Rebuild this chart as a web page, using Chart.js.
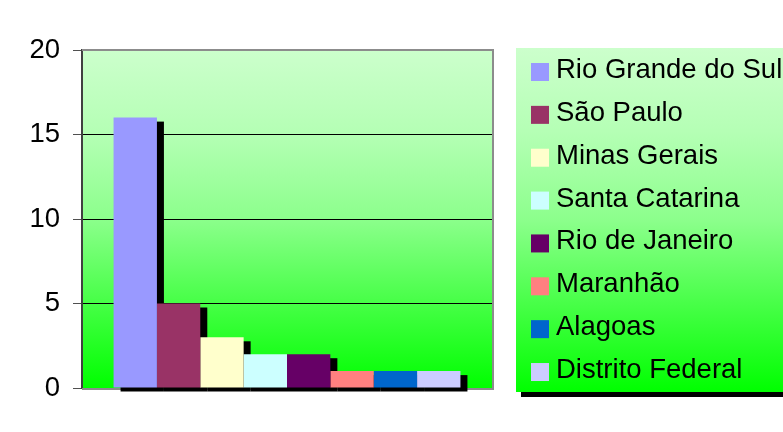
<!DOCTYPE html>
<html>
<head>
<meta charset="utf-8">
<script src="https://cdn.jsdelivr.net/npm/chart.js@4/dist/chart.umd.min.js"></script>
<style>
  html, body { margin: 0; padding: 0; background: #fff; overflow: hidden; }
  #wrap { width: 783px; height: 432px; }
</style>
</head>
<body>
<div id="wrap"><canvas id="chart"></canvas></div>
<script>
const states = ["Rio Grande do Sul", "São Paulo", "Minas Gerais", "Santa Catarina",
  "Rio de Janeiro", "Maranhão", "Alagoas", "Distrito Federal"];
const counts = [16, 5, 3, 2, 2, 1, 1, 1];
const colors = ["#9999ff", "#993366", "#ffffcc", "#ccffff",
  "#660066", "#ff8080", "#0066cc", "#ccccff"];
const yTicks = [0, 5, 10, 15, 20];

const FONT = "'Liberation Sans', Arial, sans-serif";

const greenFill = (ctx, top, bottom) => {
  const g = ctx.createLinearGradient(0, top, 0, bottom);
  g.addColorStop(0, "#ccffcc");
  g.addColorStop(0.25, "#b4ffb4");
  g.addColorStop(0.5, "#8cff8c");
  g.addColorStop(0.75, "#46ff46");
  g.addColorStop(1, "#00ff00");
  return g;
};

const decor = {
  id: "decor",
  beforeDraw(chart) {
    const { ctx, chartArea: a } = chart;
    ctx.save();
    ctx.fillStyle = greenFill(ctx, a.top, a.bottom);
    ctx.fillRect(a.left, a.top, a.right - a.left, a.bottom - a.top);
    ctx.restore();
  },
  beforeDatasetsDraw(chart) {
    const { ctx, chartArea: a } = chart;
    ctx.save();
    // plot frame
    ctx.strokeStyle = "#8c8c8c";
    ctx.lineWidth = 2;
    ctx.beginPath();
    ctx.moveTo(a.left, a.top);
    ctx.lineTo(a.right + 1, a.top);
    ctx.lineTo(a.right + 1, a.bottom + 1);
    ctx.lineTo(a.left, a.bottom + 1);
    ctx.stroke();
    // bar shadows
    ctx.fillStyle = "#000";
    chart.data.datasets.forEach((ds, i) => {
      chart.getDatasetMeta(i).data.forEach((bar) => {
        const w = bar.width;
        ctx.fillRect(bar.x - w / 2 + 7, bar.y + 4, w, bar.base - bar.y);
      });
    });
    ctx.restore();
  },
  afterDraw(chart) {
    const { ctx } = chart;
    const x = 516, y = 48, w = 280, h = 344;
    ctx.save();
    ctx.fillStyle = "#000";
    ctx.fillRect(x + 5, y + 5, w, h);
    ctx.fillStyle = greenFill(ctx, y, y + h);
    ctx.fillRect(x, y, w, h);
    ctx.font = "27.5px " + FONT;
    ctx.textBaseline = "alphabetic";
    chart.data.datasets.forEach((ds, i) => {
      const rowY = 63 + i * 42.86;
      ctx.fillStyle = ds.backgroundColor;
      ctx.fillRect(531, rowY, 18, 18);
      ctx.fillStyle = "#000";
      ctx.fillText(ds.label, 556, rowY + 15);
    });
    ctx.restore();
  }
};

new Chart(document.getElementById("chart"), {
  type: "bar",
  data: {
    labels: [""],
    datasets: states.map((s, i) => ({
      label: s,
      data: [counts[i]],
      backgroundColor: colors[i],
      borderWidth: 0,
      categoryPercentage: 0.846,
      barPercentage: 1
    }))
  },
  options: {
    responsive: true,
    maintainAspectRatio: false,
    animation: false,
    devicePixelRatio: 1,
    layout: { padding: { left: 0, top: 50, right: 291, bottom: 44 } },
    plugins: {
      legend: { display: false },
      tooltip: { enabled: false }
    },
    scales: {
      x: { display: false },
      y: {
        min: yTicks[0],
        max: yTicks[yTicks.length - 1],
        afterFit: (scale) => { scale.width = 82; },
        ticks: {
          stepSize: yTicks[1] - yTicks[0],
          color: "#000",
          padding: 13,
          font: { family: FONT, size: 27.5 }
        },
        grid: {
          tickLength: 9,
          tickColor: "#505050",
          color: (c) => (c.tick.value === yTicks[0] || c.tick.value === yTicks[yTicks.length - 1]) ? "rgba(0,0,0,0)" : "#000"
        },
        border: { display: true, color: "#404040", width: 2 }
      }
    }
  },
  plugins: [decor]
});
</script>
</body>
</html>
